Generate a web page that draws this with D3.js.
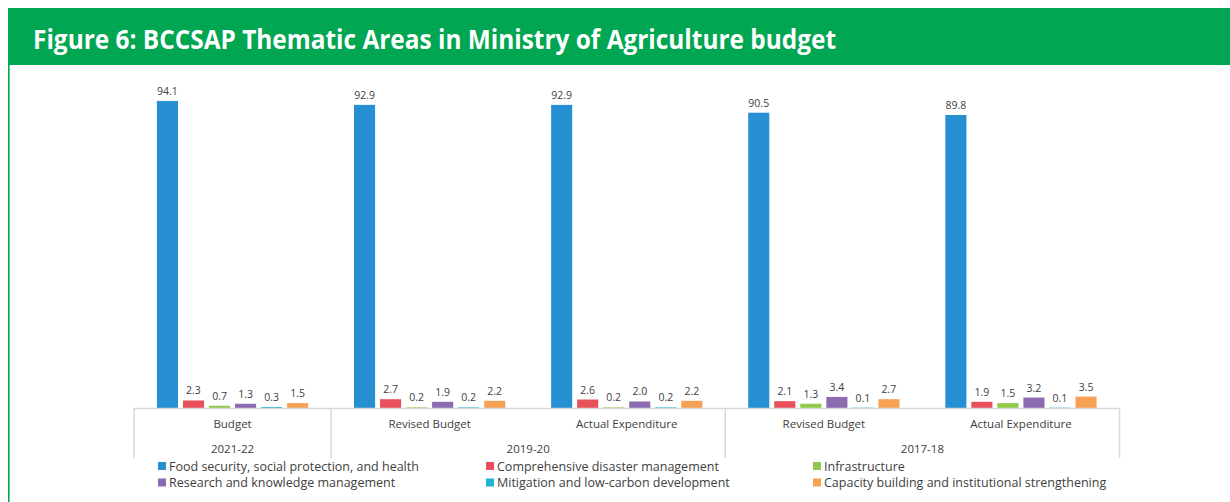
<!DOCTYPE html>
<html><head><meta charset="utf-8">
<script src="https://cdn.jsdelivr.net/npm/d3@7"></script>
<style>
html,body{margin:0;padding:0;background:#fff;}
svg{display:block;}
</style></head>
<body><svg id="chart" width="1230" height="502"></svg>
<script>
const title = "Figure 6: BCCSAP Thematic Areas in Ministry of Agriculture budget";
const categories = ["Budget","Revised Budget","Actual Expenditure","Revised Budget","Actual Expenditure"];
const years = ["2021-22","2019-20","2019-20","2017-18","2017-18"];
const yearGroups = [{label:"2021-22", from:0, to:0},{label:"2019-20", from:1, to:2},{label:"2017-18", from:3, to:4}];
const seriesNames = ["Food security, social protection, and health","Comprehensive disaster management","Infrastructure","Research and knowledge management","Mitigation and low-carbon development","Capacity building and institutional strengthening"];
const foodSecurity = [94.1, 92.9, 92.9, 90.5, 89.8];
const disaster = [2.3, 2.7, 2.6, 2.1, 1.9];
const infrastructure = [0.7, 0.2, 0.2, 1.3, 1.5];
const research = [1.3, 1.9, 2.0, 3.4, 3.2];
const mitigation = [0.3, 0.2, 0.2, 0.1, 0.1];
const capacity = [1.5, 2.2, 2.2, 2.7, 3.5];
const seriesValues = [foodSecurity, disaster, infrastructure, research, mitigation, capacity];
const colors = ["#2690d2","#e8505b","#92c94a","#8c6bb1","#1fb6d4","#f7a155"];

const svg = d3.select("#chart");
const font = "'Open Sans', 'Liberation Sans', sans-serif";

// header
svg.append("rect").attr("x",8).attr("y",8).attr("width",1222).attr("height",57).attr("fill","#00a651");
svg.append("rect").attr("x",8).attr("y",65).attr("width",1.6).attr("height",437).attr("fill","#00a651");
svg.append("text").attr("x",33).attr("y",49).text(title)
  .attr("fill","#fff").attr("font-family",font).attr("font-weight","bold").attr("font-size",26)
  .attr("textLength",803).attr("lengthAdjust","spacingAndGlyphs");

const left = 134, right = 1119.5, base = 408;
const x0 = d3.scaleBand().domain(d3.range(categories.length)).range([left,right]).padding(0);
const x1 = d3.scaleBand().domain(d3.range(seriesNames.length)).range([0,x0.bandwidth()]).paddingInner(0.19).paddingOuter(0.88);
const y = d3.scaleLinear().domain([0,100]).range([base, base-326.3]);

const g = svg.append("g");
categories.forEach((c,ci)=>{
  seriesValues.forEach((vals,si)=>{
    const v = vals[ci];
    const bx = x0(ci)+x1(si);
    g.append("rect").attr("x",bx).attr("y",y(v)).attr("width",x1.bandwidth()).attr("height",Math.max(0.8,base-y(v)))
      .attr("fill",colors[si]);
    g.append("text").attr("x",bx+x1.bandwidth()/2).attr("y",y(v)-6).attr("text-anchor","middle")
      .attr("font-family",font).attr("font-size",10.5).attr("fill","#404040").text(d3.format(".1f")(v));
  });
});

// axis lines
const axisColor = "#d9d9d9";
svg.append("line").attr("x1",left).attr("x2",right).attr("y1",base+0.5).attr("y2",base+0.5).attr("stroke",axisColor).attr("stroke-width",1.5);
const dividers = [left, x0(1), x0(3), right];
dividers.forEach(d=>{
  svg.append("line").attr("x1",d).attr("x2",d).attr("y1",base).attr("y2",458).attr("stroke",axisColor).attr("stroke-width",1.5);
});
categories.forEach((c,ci)=>{
  svg.append("text").attr("x",x0(ci)+x0.bandwidth()/2).attr("y",428).attr("text-anchor","middle")
    .attr("font-family",font).attr("font-size",11.5).attr("fill","#404040").text(c);
});
yearGroups.forEach(yg=>{
  const cx = (x0(yg.from)+x0(yg.to)+x0.bandwidth())/2;
  svg.append("text").attr("x",cx).attr("y",453).attr("text-anchor","middle")
    .attr("font-family",font).attr("font-size",11.5).attr("fill","#404040").text(yg.label);
});

// legend
const legX = [158, 486, 813];
seriesNames.forEach((s,i)=>{
  const col = i%3, row = Math.floor(i/3);
  const lx = legX[col], ly = 466 + row*16.5;
  svg.append("rect").attr("x",lx).attr("y",ly-4).attr("width",8).attr("height",8).attr("fill",colors[i]);
  svg.append("text").attr("x",lx+11).attr("y",ly+4.5).attr("font-family",font).attr("font-size",12.5)
    .attr("fill","#404040").text(s);
});
</script></body></html>
